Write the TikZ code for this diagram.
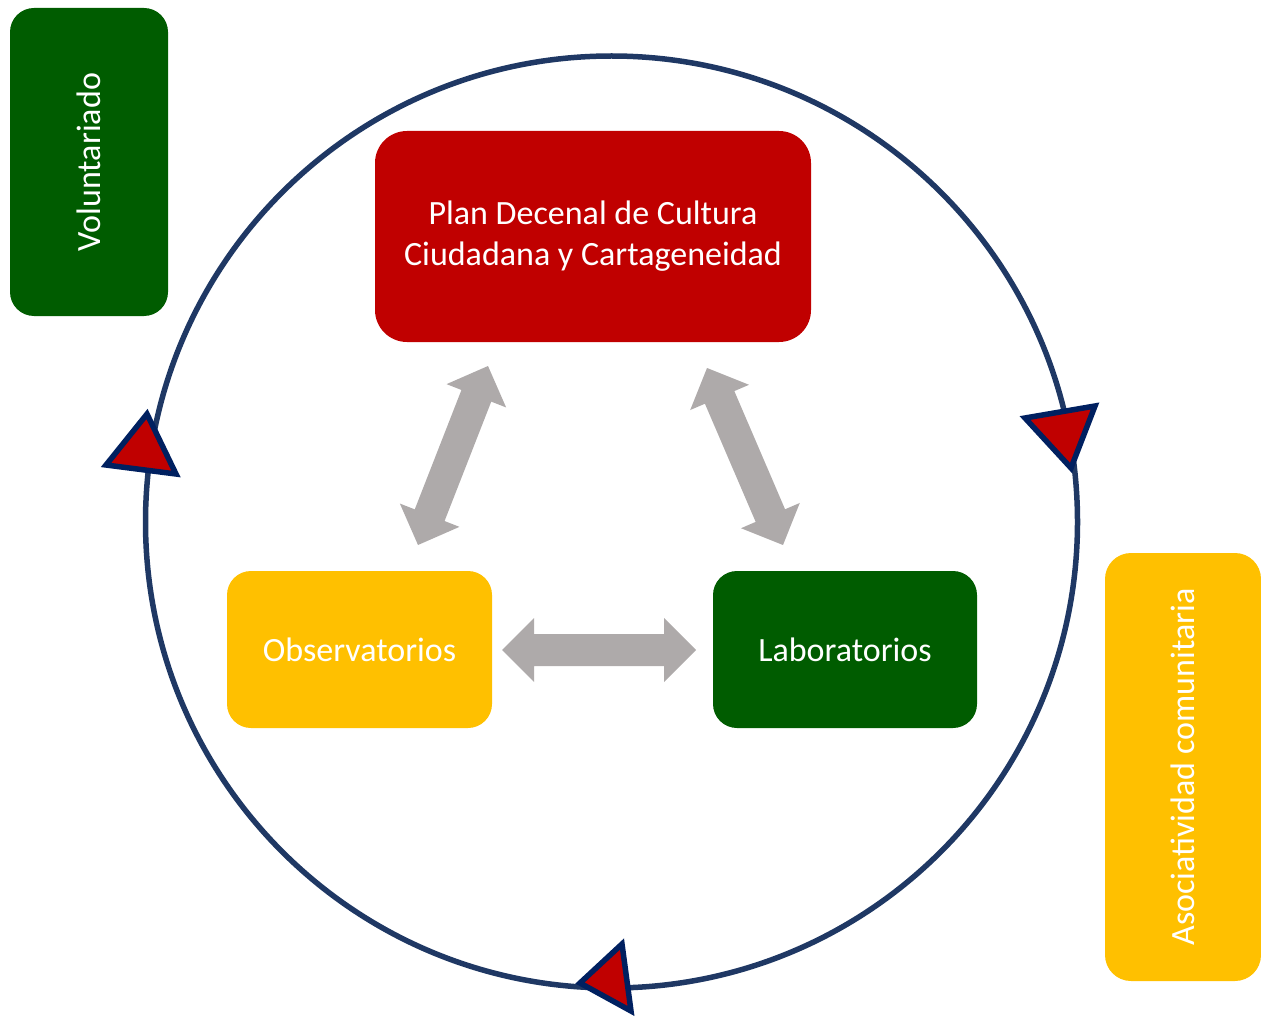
\documentclass[tikz,border=0pt]{standalone}
\usepackage{fontspec}
\setmainfont{Carlito}
\usetikzlibrary{calc}
\definecolor{myred}{RGB}{192,0,0}
\definecolor{myyellow}{RGB}{255,192,0}
\definecolor{mygreen}{RGB}{0,92,0}
\definecolor{ringblue}{RGB}{31,56,100}
\definecolor{navy}{RGB}{0,32,96}
\definecolor{arrowgray}{RGB}{174,170,170}
\tikzset{
  box/.style={rounded corners=#1, inner sep=0pt, text=white, align=center,
    font=\fontsize{34}{41}\selectfont},
  box/.default=28pt,
  vtext/.style={rotate=90, text=white, font=\fontsize{34}{41}\selectfont},
  marker/.style={fill=myred, draw=navy, line width=5.5pt, line join=miter},
}
\newcommand\blockarrow[2]{%
  \fill[arrowgray] (#1) -- ($(#1)!45.25pt!45:(#2)$) -- ($(#1)!35.78pt!26.565:(#2)$)
    -- ($(#2)!35.78pt!-26.565:(#1)$) -- ($(#2)!45.25pt!-45:(#1)$) -- (#2)
    -- ($(#2)!45.25pt!45:(#1)$) -- ($(#2)!35.78pt!26.565:(#1)$)
    -- ($(#1)!35.78pt!-26.565:(#2)$) -- ($(#1)!45.25pt!-45:(#2)$) -- cycle;}
\begin{document}
\begin{tikzpicture}[x=1pt,y=-1pt]
\useasboundingbox (0,0) rectangle (1261,1019);
% ring
\draw[ringblue, line width=5.5pt] (611.5,522) circle[radius=466pt];
% boxes
\node[box=24pt, fill=mygreen, minimum width=158pt, minimum height=308pt] (vol) at (89,162) {};
\node[vtext] (voltext) at (vol.center) {Voluntariado};
\node[box=26pt, fill=myyellow, minimum width=156pt, minimum height=428pt] (aso) at (1183,767) {};
\node[vtext] (asotext) at (aso.center) {Asociatividad comunitaria};
\node[box=32pt, fill=myred, minimum width=436pt, minimum height=211pt] (plan) at (593,236.5)
  {Plan Decenal de Cultura\\Ciudadana y Cartageneidad};
\node[box=24pt, fill=myyellow, minimum width=265pt, minimum height=157pt] (obs) at (359.5,649.5) {Observatorios};
\node[box=24pt, fill=mygreen, minimum width=264pt, minimum height=157pt] (lab) at (845,649.5) {Laboratorios};
% gray block arrows
\coordinate (a1) at (418,545); \coordinate (b1) at (488,366);
\coordinate (a2) at (707,368); \coordinate (b2) at (783,545);
\coordinate (a3) at (502,650); \coordinate (b3) at (696,650);
\blockarrow{a1}{b1}
\blockarrow{a2}{b2}
\blockarrow{a3}{b3}
% markers on ring
\draw[marker] (147,414) -- (106,465) -- (176,474) -- cycle;
\draw[marker] (1025,418) -- (1095,406) -- (1071,468) -- cycle;
\draw[marker] (580,983) -- (622,944) -- (631,1011) -- cycle;
\end{tikzpicture}
\end{document}
